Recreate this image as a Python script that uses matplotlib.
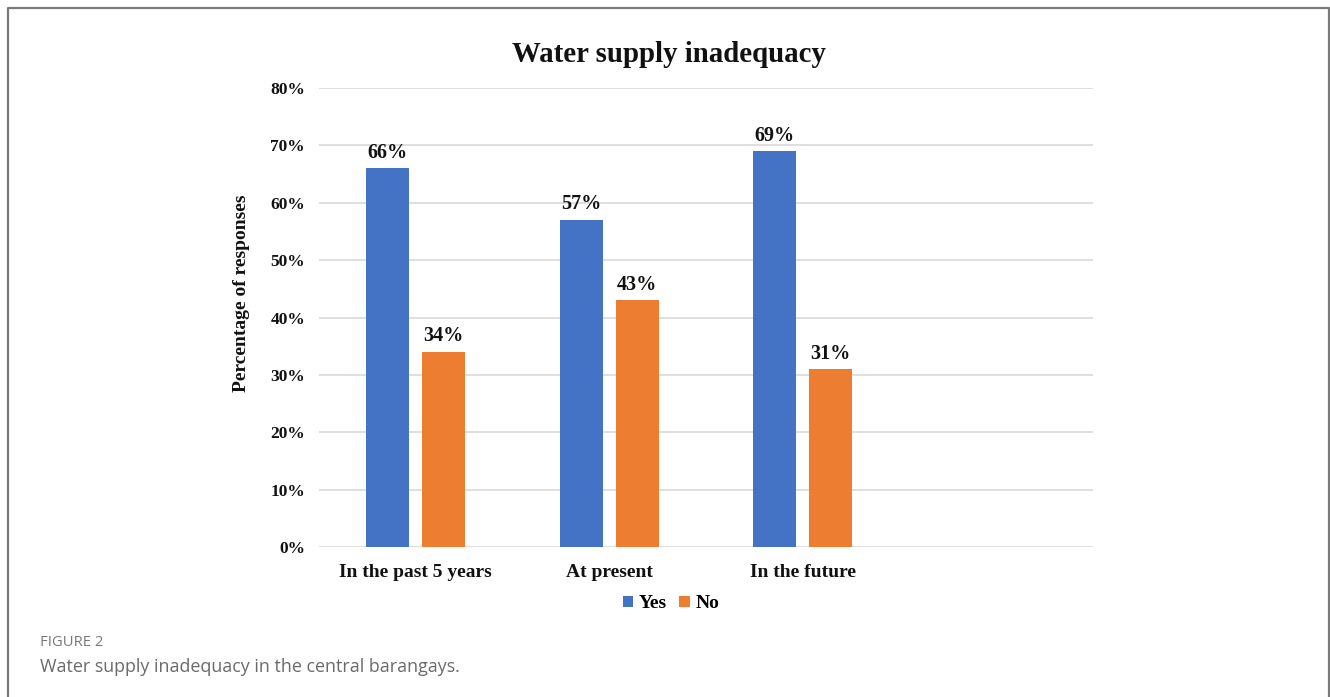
import matplotlib
matplotlib.use("Agg")
import matplotlib.pyplot as plt
from matplotlib.patches import Patch
from matplotlib.lines import Line2D
import numpy as np

categories = ["In the past 5 years", "At present", "In the future"]
yes_values = [66, 57, 69]
no_values = [34, 43, 31]
series_names = ["Yes", "No"]
y_ticks = [0, 10, 20, 30, 40, 50, 60, 70, 80]

BLUE = "#4472C4"
ORANGE = "#ED7D31"
SERIF = "Liberation Serif"

W, H = 1330, 697
fig = plt.figure(figsize=(W / 100, H / 100), dpi=100)
fig.patch.set_facecolor("white")

ax = fig.add_axes([319 / W, 1 - 547 / H, (1093 - 319) / W, (547 - 88) / H])

x = np.arange(len(categories))
bw = 0.222
off = 0.145
b1 = ax.bar(x - off, yes_values, bw, color=BLUE, zorder=3)
b2 = ax.bar(x + off, no_values, bw, color=ORANGE, zorder=3)

for bars, vals in ((b1, yes_values), (b2, no_values)):
    for rect, v in zip(bars, vals):
        ax.annotate(f"{v}%", (rect.get_x() + rect.get_width() / 2, v),
                    xytext=(0, 4), textcoords="offset points",
                    ha="center", va="bottom", fontsize=14.5, fontweight="bold",
                    family=SERIF, color="#111111")

ax.set_xlim(-0.5, 3.5)
ax.set_ylim(0, 80)
ax.set_yticks(y_ticks)
ax.set_yticklabels([f"{t}%" for t in y_ticks], fontsize=12.5, fontweight="bold",
                   family=SERIF, color="#111111")
ax.set_xticks(x)
ax.set_xticklabels(categories, fontsize=14, fontweight="bold", family=SERIF,
                   color="#111111")
ax.tick_params(axis="both", length=0)
ax.tick_params(axis="y", pad=10)
ax.tick_params(axis="x", pad=12)
for s in ax.spines.values():
    s.set_visible(False)
ax.grid(axis="y", color="#D9D9D9", linewidth=1.2, zorder=0)
ax.set_axisbelow(True)

ax.set_ylabel("Percentage of responses", fontsize=14, fontweight="bold",
              family=SERIF, color="#111111")
ax.yaxis.set_label_coords((250 - 319) / 774, (547 - 293) / 459)

fig.text(669 / W, 1 - 55 / H, "Water supply inadequacy", ha="center", va="center",
         fontsize=20.8, fontweight="bold", family=SERIF, color="#111111")

handles = [Patch(facecolor=BLUE), Patch(facecolor=ORANGE)]
fig.legend(handles, series_names, loc="center", bbox_to_anchor=(671 / W, 1 - 604 / H),
           ncol=2, frameon=False, handlelength=0.55, handleheight=0.55,
           handletextpad=0.3, columnspacing=0.6,
           prop={"family": SERIF, "weight": "bold", "size": 14})

fig.text(40 / W, 1 - 643 / H, "FIGURE 2", ha="left", va="center",
         fontsize=10.6, family="Open Sans", color="#777777", fontweight="medium")
fig.text(40 / W, 1 - 667 / H, "Water supply inadequacy in the central barangays.",
         ha="left", va="center", fontsize=12.9, family="Open Sans", color="#6a6a6a")

# outer frame: left, top and right edges
frame_color = "#7a7a7a"
fx0, fx1, fy = 7.5 / W, 1328.5 / W, 1 - 7.5 / H
fig.add_artist(Line2D([fx0, fx0, fx1, fx1], [0, fy, fy, 0], transform=fig.transFigure,
                      color=frame_color, linewidth=1.6))

fig.savefig("out.png", dpi=100, facecolor="white")
